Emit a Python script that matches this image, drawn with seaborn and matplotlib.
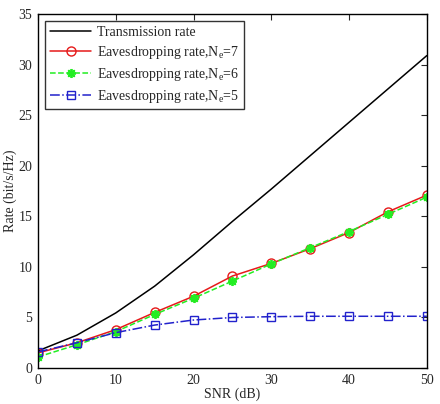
import pandas as pd
import matplotlib
matplotlib.use('Agg')
import matplotlib.pyplot as plt
import seaborn as sns

# Values
snr = [0, 5, 10, 15, 20, 25, 30, 35, 40, 45, 50]
transmission = [1.7, 3.25, 5.45, 8.1, 11.2, 14.5, 17.7, 21.0, 24.3, 27.6, 30.9]
eve_ne7 = [1.5, 2.5, 3.8, 5.5, 7.1, 9.1, 10.35, 11.8, 13.4, 15.45, 17.1]
eve_ne6 = [1.1, 2.3, 3.6, 5.3, 6.9, 8.6, 10.3, 11.9, 13.5, 15.2, 16.9]
eve_ne5 = [1.6, 2.5, 3.5, 4.25, 4.75, 5.0, 5.08, 5.12, 5.12, 5.12, 5.12]

labels = ['Transmission rate',
          r'Eavesdropping rate,N$_\mathrm{e}$=7',
          r'Eavesdropping rate,N$_\mathrm{e}$=6',
          r'Eavesdropping rate,N$_\mathrm{e}$=5']

sns.set_style('white')
plt.rcParams['font.family'] = ['Liberation Serif', 'DejaVu Serif']
plt.rcParams['mathtext.fontset'] = 'custom'
plt.rcParams['mathtext.rm'] = 'Liberation Serif'
plt.rcParams['font.size'] = 10

df = pd.DataFrame({'SNR': snr * 4,
                   'Rate': transmission + eve_ne7 + eve_ne6 + eve_ne5,
                   'Series': sum([[l] * len(snr) for l in labels], [])})

fig = plt.figure(figsize=(4.4, 4.04), dpi=100)
ax = fig.add_axes([0.0864, 0.089, 0.8836, 0.876])

styles = [
    dict(color='black', linestyle='-', marker=None),
    dict(color='#e61a1a', linestyle='-', marker='o', markerfacecolor='none',
         markeredgecolor='#e61a1a', markersize=6.5, markeredgewidth=1.0),
    dict(color='#22ee22', linestyle='--', marker=(8, 2, 0), markersize=6.5,
         markeredgecolor='#22ee22', markeredgewidth=1.3),
    dict(color='#2222cc', linestyle='-.', marker='s', markerfacecolor='none',
         markeredgecolor='#2222cc', markersize=5.5, markeredgewidth=1.0),
]
for lab, st in zip(labels, styles):
    sns.lineplot(data=df[df['Series'] == lab], x='SNR', y='Rate', ax=ax,
                 label=lab, linewidth=1.1, **st)

ax.set_xlim(0, 50)
ax.set_ylim(0, 35)
ax.set_xticks(range(0, 51, 10))
ax.set_yticks(range(0, 36, 5))
ax.set_xlabel('SNR (dB)', labelpad=1)
ax.set_ylabel('Rate (bit/s/Hz)', labelpad=1)
ax.tick_params(direction='in', top=True, right=True, length=4, width=0.8,
               labelsize=10, pad=4)
for sp in ax.spines.values():
    sp.set_color('black')
    sp.set_linewidth(1.0)

leg = ax.legend(loc='upper left', fontsize=10, frameon=True, fancybox=False,
                edgecolor='black', handlelength=3.0, handletextpad=0.4,
                borderpad=0.35, labelspacing=0.35, borderaxespad=0.5)
leg.get_frame().set_linewidth(1.0)

fig.savefig('out.png', dpi=100)
